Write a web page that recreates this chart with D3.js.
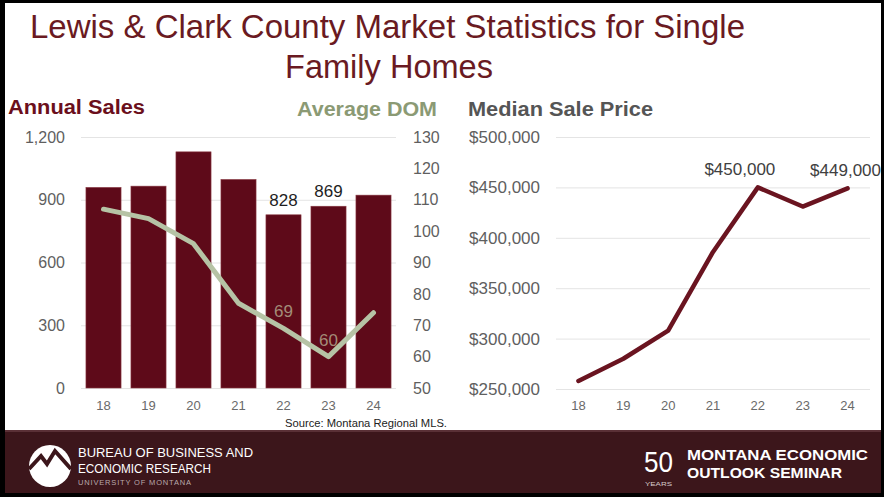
<!DOCTYPE html>
<html>
<head>
<meta charset="utf-8">
<script src="https://cdn.jsdelivr.net/npm/d3@7"></script>
<style>
  html, body { margin: 0; padding: 0; background: #000; }
  svg { display: block; }
  text { font-family: "Liberation Sans", Arial, sans-serif; }
</style>
</head>
<body>
<svg id="chart" width="884" height="497"></svg>
<script>
// Lewis & Clark County single family homes, 2018-2024
const years = ["18", "19", "20", "21", "22", "23", "24"];
const annualSales = [959, 965, 1129, 997, 828, 869, 922];
const averageDOM = [107, 104, 96, 77, 69, 60, 74];
const medianPrice = [258000, 280000, 308000, 386000, 450000, 431000, 449000];

const salesTicks = [0, 300, 600, 900, 1200];
const domTicks = [50, 60, 70, 80, 90, 100, 110, 120, 130];
const priceTicks = [250000, 300000, 350000, 400000, 450000, 500000];

const salesLabelled = ["22", "23"];
const domLabelled = ["22", "23"];
const priceLabelled = ["22", "24"];

const maroon = "#5e0a19";
const sage = "#b6c3a5";
const gridColor = "#e4e4e4";
const tickColor = "#5f5f5f";

const svg = d3.select("#chart");

// frame and page
svg.append("rect").attr("x", 0).attr("y", 0).attr("width", 884).attr("height", 497).attr("fill", "#000");
svg.append("rect").attr("x", 5).attr("y", 3).attr("width", 876).attr("height", 427).attr("fill", "#fff");

// headline
const head = svg.append("g").attr("fill", "#6a1a22");
head.append("text").attr("x", 30).attr("y", 38).attr("font-size", 34)
  .attr("font-family", "'Liberation Sans Narrow', 'Liberation Sans', Arial, sans-serif")
  .attr("textLength", 715).attr("lengthAdjust", "spacingAndGlyphs")
  .text("Lewis & Clark County Market Statistics for Single");
head.append("text").attr("x", 285).attr("y", 78).attr("font-size", 34)
  .attr("font-family", "'Liberation Sans Narrow', 'Liberation Sans', Arial, sans-serif")
  .attr("textLength", 208).attr("lengthAdjust", "spacingAndGlyphs")
  .text("Family Homes");

// ---------- Annual sales bars + average DOM line ----------
const x1 = d3.scaleBand().domain(years).range([81, 396]).paddingInner(0.22).paddingOuter(0.11);
const ySales = d3.scaleLinear().domain([0, 1200]).range([388, 137]);
const yDOM = d3.scaleLinear().domain([50, 130]).range([388, 137]);

const left = svg.append("g");

left.append("g")
  .attr("transform", "translate(81,0)")
  .call(d3.axisLeft(ySales).tickValues(salesTicks).tickSize(-315).tickFormat(d3.format(",")))
  .call(g => g.select(".domain").remove())
  .call(g => g.selectAll(".tick line").attr("stroke", gridColor))
  .call(g => g.selectAll(".tick text").attr("x", -16).attr("fill", tickColor)
    .attr("font-size", 16).attr("font-family", "Liberation Sans, Arial, sans-serif"));

left.append("g")
  .attr("transform", "translate(396,0)")
  .call(d3.axisRight(yDOM).tickValues(domTicks).tickSize(0))
  .call(g => g.select(".domain").remove())
  .call(g => g.selectAll(".tick text").attr("x", 17).attr("fill", tickColor)
    .attr("font-size", 16).attr("font-family", "Liberation Sans, Arial, sans-serif"));

left.append("g")
  .attr("transform", "translate(0,388)")
  .call(d3.axisBottom(x1).tickSize(0))
  .call(g => g.select(".domain").remove())
  .call(g => g.selectAll(".tick text").attr("y", 13).attr("fill", "#6a6a6a")
    .attr("font-size", 13).attr("font-family", "Liberation Sans, Arial, sans-serif"));

left.selectAll("rect.bar").data(years).join("rect")
  .attr("class", "bar")
  .attr("x", d => x1(d))
  .attr("width", x1.bandwidth())
  .attr("y", (d, i) => ySales(annualSales[i]))
  .attr("height", (d, i) => ySales(0) - ySales(annualSales[i]))
  .attr("fill", maroon)
  .attr("stroke", "#8a3a44").attr("stroke-width", 0.6);

left.selectAll("text.salesLabel").data(years.filter(y => salesLabelled.includes(y))).join("text")
  .attr("class", "salesLabel")
  .attr("x", d => x1(d) + x1.bandwidth() / 2)
  .attr("y", d => ySales(annualSales[years.indexOf(d)]) - 9)
  .attr("text-anchor", "middle").attr("font-size", 17).attr("fill", "#1e1e1e")
  .text(d => d3.format(",")(annualSales[years.indexOf(d)]));

const domLine = d3.line()
  .x((d, i) => x1(years[i]) + x1.bandwidth() / 2)
  .y(d => yDOM(d));

left.append("path").datum(averageDOM)
  .attr("d", domLine)
  .attr("fill", "none").attr("stroke", sage).attr("stroke-width", 5)
  .attr("stroke-linejoin", "round").attr("stroke-linecap", "round");

const domLab = left.selectAll("g.domLabel").data(years.filter(y => domLabelled.includes(y))).join("g")
  .attr("class", "domLabel");
domLab.append("text")
  .attr("x", d => x1(d) + x1.bandwidth() / 2)
  .attr("y", d => yDOM(averageDOM[years.indexOf(d)]) - 11)
  .attr("text-anchor", "middle").attr("font-size", 17).attr("fill", "#a38c78")
  .text(d => averageDOM[years.indexOf(d)]);

// panel titles
svg.append("text").attr("x", 8).attr("y", 114).attr("font-size", 20).attr("font-weight", "bold")
  .attr("fill", "#6b0f1c").attr("textLength", 137).attr("lengthAdjust", "spacingAndGlyphs")
  .text("Annual Sales");
svg.append("text").attr("x", 297).attr("y", 116).attr("font-size", 20).attr("font-weight", "bold")
  .attr("fill", "#8b9a74").attr("textLength", 140).attr("lengthAdjust", "spacingAndGlyphs")
  .text("Average DOM");
svg.append("text").attr("x", 468).attr("y", 116).attr("font-size", 20).attr("font-weight", "bold")
  .attr("fill", "#555555").attr("textLength", 185).attr("lengthAdjust", "spacingAndGlyphs")
  .text("Median Sale Price");

svg.append("text").attr("x", 447).attr("y", 427).attr("text-anchor", "end")
  .attr("font-size", 10.5).attr("fill", "#222")
  .attr("textLength", 162).attr("lengthAdjust", "spacingAndGlyphs")
  .text("Source:  Montana Regional MLS.");

// ---------- Median sale price line ----------
const x2 = d3.scaleBand().domain(years).range([556, 870]).paddingInner(0.22).paddingOuter(0.11);
const yPrice = d3.scaleLinear().domain([250000, 500000]).range([389, 137]);

const right = svg.append("g");

right.append("g")
  .attr("transform", "translate(556,0)")
  .call(d3.axisLeft(yPrice).tickValues(priceTicks).tickSize(-314).tickFormat(d => "$" + d3.format(",")(d)))
  .call(g => g.select(".domain").remove())
  .call(g => g.selectAll(".tick line").attr("stroke", gridColor))
  .call(g => g.selectAll(".tick text").attr("x", -16).attr("fill", tickColor)
    .attr("font-size", 17).attr("font-family", "Liberation Sans, Arial, sans-serif"));

right.append("g")
  .attr("transform", "translate(0,389)")
  .call(d3.axisBottom(x2).tickSize(0))
  .call(g => g.select(".domain").remove())
  .call(g => g.selectAll(".tick text").attr("y", 12).attr("fill", "#6a6a6a")
    .attr("font-size", 13).attr("font-family", "Liberation Sans, Arial, sans-serif"));

const priceLine = d3.line()
  .x((d, i) => x2(years[i]) + x2.bandwidth() / 2)
  .y(d => yPrice(d));

right.append("path").datum(medianPrice)
  .attr("d", priceLine)
  .attr("fill", "none").attr("stroke", "#6a1420").attr("stroke-width", 4.5)
  .attr("stroke-linejoin", "round").attr("stroke-linecap", "round");

// value callouts sit a little left of the point, except at the right edge
const calloutShift = { "22": -18, "24": -2 };
right.selectAll("text.priceLabel").data(years.filter(y => priceLabelled.includes(y))).join("text")
  .attr("class", "priceLabel")
  .attr("x", d => x2(d) + x2.bandwidth() / 2 + calloutShift[d])
  .attr("y", d => yPrice(medianPrice[years.indexOf(d)]) - 12)
  .attr("text-anchor", "middle").attr("font-size", 17).attr("fill", "#404040")
  .text(d => "$" + d3.format(",")(medianPrice[years.indexOf(d)]));

// ---------- footer ----------
const foot = svg.append("g");
foot.append("rect").attr("x", 5).attr("y", 430).attr("width", 876).attr("height", 63).attr("fill", "#3c161b");
foot.append("rect").attr("x", 5).attr("y", 430).attr("width", 876).attr("height", 2).attr("fill", "#5a3036");

foot.append("circle").attr("cx", 50).attr("cy", 466).attr("r", 21).attr("fill", "#fff");
foot.append("path")
  .attr("d", "M29,469 L41,456 L47,464 L55,451 L71,469")
  .attr("fill", "none").attr("stroke", "#3c161b").attr("stroke-width", 4)
  .attr("stroke-linejoin", "miter");

foot.append("text").attr("x", 78).attr("y", 457).attr("font-size", 12).attr("fill", "#fff")
  .attr("textLength", 175).attr("lengthAdjust", "spacingAndGlyphs")
  .text("BUREAU OF BUSINESS AND");
foot.append("text").attr("x", 78).attr("y", 473).attr("font-size", 12).attr("fill", "#fff")
  .attr("textLength", 133).attr("lengthAdjust", "spacingAndGlyphs")
  .text("ECONOMIC RESEARCH");
foot.append("text").attr("x", 78).attr("y", 485).attr("font-size", 7.5).attr("fill", "#b9a9ab")
  .attr("textLength", 113).attr("lengthAdjust", "spacing")
  .text("UNIVERSITY OF MONTANA");

foot.append("text").attr("x", 644).attr("y", 472).attr("font-size", 29).attr("fill", "#fff")
  .attr("textLength", 29).attr("lengthAdjust", "spacingAndGlyphs")
  .text("50");
foot.append("text").attr("x", 645).attr("y", 486).attr("font-size", 6).attr("fill", "#d8cccd")
  .attr("textLength", 27).attr("lengthAdjust", "spacingAndGlyphs")
  .text("YEARS");
foot.append("text").attr("x", 687).attr("y", 460).attr("font-size", 14).attr("font-weight", "bold")
  .attr("fill", "#fff").attr("textLength", 181).attr("lengthAdjust", "spacingAndGlyphs")
  .text("MONTANA ECONOMIC");
foot.append("text").attr("x", 687).attr("y", 478).attr("font-size", 14).attr("font-weight", "bold")
  .attr("fill", "#fff").attr("textLength", 155).attr("lengthAdjust", "spacingAndGlyphs")
  .text("OUTLOOK SEMINAR");
</script>
</body>
</html>
